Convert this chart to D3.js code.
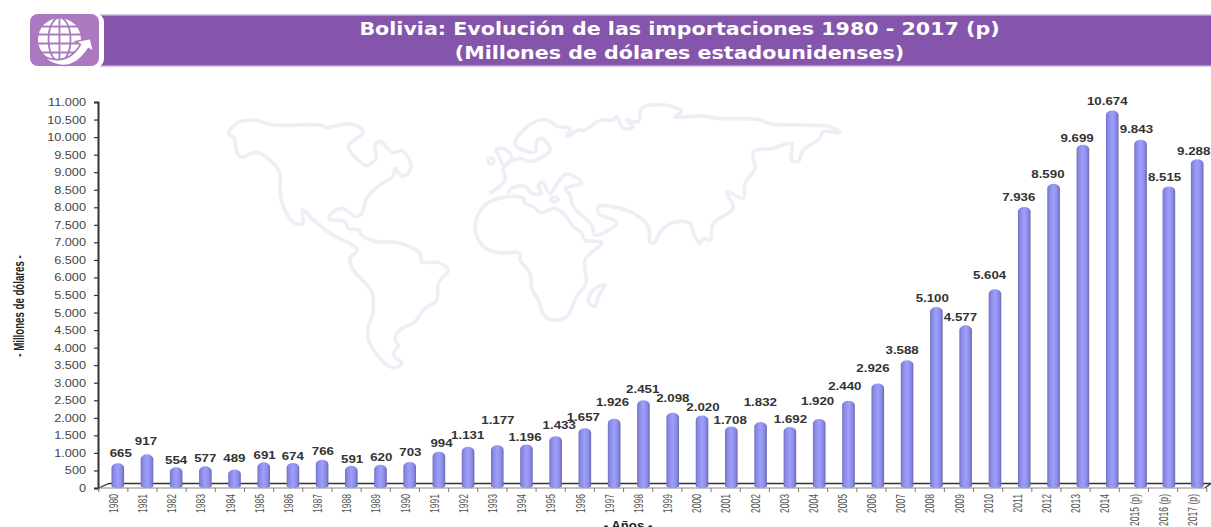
<!DOCTYPE html>
<html><head><meta charset="utf-8">
<script src="https://cdn.jsdelivr.net/npm/d3@7"></script>
<style>html,body{margin:0;padding:0;background:#fff;overflow:hidden}svg{display:block}</style>
</head><body><svg id="c" width="1211" height="527"></svg>
<script>
const years = ["1980","1981","1982","1983","1984","1985","1986","1987","1988","1989","1990","1991","1992","1993","1994","1995","1996","1997","1998","1999","2000","2001","2002","2003","2004","2005","2006","2007","2008","2009","2010","2011","2012","2013","2014","2015 (p)","2016 (p)","2017 (p)"];
const imports = [665,917,554,577,489,691,674,766,591,620,703,994,1131,1177,1196,1433,1657,1926,2451,2098,2020,1708,1832,1692,1920,2440,2926,3588,5100,4577,5604,7936,8590,9699,10674,9843,8515,9288];
const yTicks = d3.range(0, 11001, 500);
const titleLines = ["Bolivia: Evolución de las importaciones 1980 - 2017 (p)", "(Millones de dólares estadounidenses)"];
const labelNudgeX = [3,-1,0,0,0,1,0,1,1,1,1,3,0,1,-1,4,-1,-1,0,1,2,0,1,2,0,-2,-3,-3,-2,-3,-3,-3,-3,-3,-2,-2,-3,-3];
const labelNudgeY = [1,-3,4,2,-1,3,4,2,4,3,1,2,-1,-15,3,-1,-1,-6,-1,-4,2,4,-10,3,-7,-4,-5,0,1,2,-4,0,0,3,0,-1,0,1];

// decorative world outline (zoom-space points, two local frames)
const americas = [[25,100],[60,65],[110,62],[160,75],[300,75],[320,82],[390,72],[430,95],[385,140],[420,185],[440,197],[468,175],[465,135],[480,125],[520,158],[545,152],[572,190],[565,220],[545,228],[525,205],[520,228],[480,255],[440,295],[425,340],[410,350],[365,325],[330,345],[330,358],[375,365],[385,385],[415,390],[425,405],[470,425],[535,428],[600,460],[605,485],[655,488],[685,510],[655,550],[650,600],[610,630],[585,665],[540,690],[525,720],[535,735],[520,765],[545,790],[525,803],[495,790],[445,720],[445,680],[458,640],[455,575],[400,510],[390,475],[412,450],[330,400],[280,360],[248,330],[248,370],[225,370],[190,320],[180,280],[178,215],[120,160],[95,160],[65,172],[50,155],[42,115]];
const africa = [[15,385],[40,320],[110,290],[160,295],[165,310],[190,320],[210,338],[255,325],[285,345],[310,380],[335,400],[345,420],[395,428],[345,480],[348,550],[320,590],[290,650],[255,660],[225,650],[205,600],[185,565],[180,520],[150,480],[150,460],[85,458],[40,440]];
const eurasia = [[60,280],[105,240],[100,205],[150,175],[180,185],[240,150],[215,115],[200,125],[195,155],[140,140],[135,125],[185,70],[230,60],[265,80],[300,85],[290,110],[325,90],[340,92],[390,62],[430,60],[440,50],[460,85],[490,80],[470,60],[505,65],[515,25],[585,15],[635,35],[615,50],[700,48],[740,55],[860,58],[905,72],[1000,75],[1080,80],[1110,98],[1060,95],[1050,115],[1000,150],[985,185],[965,180],[965,130],[910,145],[850,155],[855,205],[825,250],[820,295],[770,275],[790,325],[730,370],[720,420],[700,415],[690,430],[670,400],[660,370],[620,365],[580,385],[550,430],[540,425],[535,380],[480,335],[385,320],[385,340],[440,368],[375,405],[365,375],[310,320],[300,285],[285,265],[335,250],[290,222],[262,250],[240,280],[215,245],[205,260],[215,280],[185,280],[165,258],[125,265],[115,280]];
const britain = [[78,148],[105,148],[125,172],[100,195],[88,170]];
const madagascar = [[405,553],[385,590],[375,618],[355,605],[370,570]];

const svg = d3.select("#c");
const defs = svg.append("defs");
const grad = defs.append("linearGradient").attr("id","bar");
[[0,"#6f6fbd"],[.15,"#8888e4"],[.5,"#9e9efc"],[.8,"#8a8ae8"],[1,"#6a6aa8"]].forEach(([o,c])=>grad.append("stop").attr("offset",o).attr("stop-color",c));

// banner
svg.append("rect").attr("x",100).attr("y",14.5).attr("width",1111).attr("height",52).attr("fill","#b292cb");
svg.append("rect").attr("x",100).attr("y",16).attr("width",1111).attr("height",49).attr("fill","#8555ab");
svg.append("rect").attr("x",28).attr("y",13).attr("width",76).attr("height",55).attr("rx",9).attr("fill","#fff");
svg.append("rect").attr("x",30).attr("y",14).attr("width",69).attr("height",52).attr("rx",8).attr("fill","#ac78c0");
const iconBg = "#ac78c0";
const globe = svg.append("g").attr("transform","translate(59.5,39.5)");
globe.append("circle").attr("r",21.5).attr("fill","#fff");
[-13,-5,4,13].forEach(v=>globe.append("line").attr("x1",-23).attr("x2",23).attr("y1",v).attr("y2",v).attr("stroke",iconBg).attr("stroke-width",1.8));
globe.append("ellipse").attr("rx",11).attr("ry",22).attr("fill","none").attr("stroke",iconBg).attr("stroke-width",1.8);
globe.append("line").attr("y1",-22).attr("y2",22).attr("stroke",iconBg).attr("stroke-width",1.8);
globe.append("path").attr("d","M-16,17 Q8,27 21,5 L16,2 L31,-1 L34,12 L29,9 Q14,32 -6,24 Q-12,22 -16,17Z").attr("fill","#fff").attr("stroke",iconBg).attr("stroke-width",1.5);

svg.selectAll("text.title").data(titleLines).join("text").attr("class","title")
  .attr("transform",(d,i)=>`translate(679.5,${35+i*24}) scale(1.115,1)`).attr("text-anchor","middle")
  .style("font","bold 18.5px 'DejaVu Sans'").attr("fill","#fff").text(d=>d);

// map
const mapLine = d3.line().curve(d3.curveCatmullRomClosed.alpha(.5));
const mapG = svg.append("g").attr("fill","none").attr("stroke","#f1ecf6").attr("stroke-linejoin","round");
mapG.append("path").attr("transform","translate(220,100) scale(.3333)").attr("stroke-width",11).attr("d",mapLine(americas));
const eaG = mapG.append("g").attr("transform","translate(470,100) scale(.3333)").attr("stroke-width",11);
[africa,britain,madagascar].forEach(p=>eaG.append("path").attr("d",mapLine(p)));
eaG.append("path").attr("d",d3.line().curve(d3.curveCatmullRom.alpha(.5))(eurasia));
eaG.append("ellipse").attr("cx",63).attr("cy",183).attr("rx",9).attr("ry",9);
eaG.append("ellipse").attr("cx",253).attr("cy",298).attr("rx",12).attr("ry",7);

// scales
const x = d3.scaleBand().domain(years).range([98.7,1206.8]);
const y = d3.scaleLinear().domain([0,11000]).range([488,102]);
const fmt = d3.formatLocale({decimal:",",thousands:".",grouping:[3],currency:["",""]}).format(",");
const depthX = 4.5, depthY = 3;
const barShift = d3.scaleLinear().domain([0,16,31,34,37]).range([4.5,5,7,7.5,5]);
const barLift = d3.scaleLinear().domain([0,11000]).range([1.3,3.1]);

// floor
svg.append("path").attr("d",`M98.7,488 L109,483.5 L1211,483.5 L1205,488`).attr("fill","none").attr("stroke","#333").attr("stroke-width",1.3);

// axes
const yAxis = svg.append("g").attr("transform","translate(98,0)").call(d3.axisLeft(y).tickValues(yTicks).tickFormat(fmt).tickSize(4).tickPadding(0));
yAxis.select(".domain").attr("stroke","#333").attr("stroke-width",2);
yAxis.selectAll("line").attr("stroke","#333").attr("stroke-width",1.2);
yAxis.selectAll("text").attr("x",0).attr("dy",null).attr("dominant-baseline","central").attr("text-anchor","end")
  .attr("transform","translate(-12,0) scale(1.27,1)").style("font","10px 'Liberation Sans'").attr("fill","#444");

const xAxis = svg.append("g").attr("transform","translate(0,488)");
xAxis.append("line").attr("x1",98.7).attr("x2",1205).attr("stroke","#888").attr("stroke-width",1);
xAxis.selectAll("line.t").data(d3.range(years.length+1)).join("line").attr("class","t")
  .attr("x1",i=>x.range()[0]+i*x.step()).attr("x2",i=>x.range()[0]+i*x.step()).attr("y1",0).attr("y2",4).attr("stroke","#777");
xAxis.selectAll("text").data(years).join("text")
  .attr("transform",d=>`translate(${x(d)+x.bandwidth()/2},6) rotate(-90) scale(.66,1)`)
  .attr("text-anchor","end").attr("dominant-baseline","central")
  .style("font","13px 'Liberation Sans'").attr("fill","#555").text(d=>d);

// bars
const bw = 12.6;
const bars = svg.append("g").selectAll("g").data(years).join("g");
bars.append("path").attr("fill","url(#bar)").attr("d",(d,i)=>{
  const l = x(d)+x.bandwidth()/2+barShift(i)-bw/2, t = y(imports[i])-barLift(imports[i]), b = 487;
  return `M${l},${b-1} L${l},${t+4.5} A${bw/2},4.5 0 0 1 ${l+bw},${t+4.5} L${l+bw},${b-1} A${bw/2},2 0 0 1 ${l},${b-1}Z`;
});

// value labels
svg.append("g").selectAll("text").data(years).join("text")
  .attr("transform",(d,i)=>`translate(${x(d)+x.bandwidth()/2+depthX+labelNudgeX[i]},${y(imports[i])-depthY-9+labelNudgeY[i]}) scale(1.33,1)`)
  .attr("text-anchor","middle").attr("dominant-baseline","central")
  .style("font","bold 10px 'Liberation Sans'").attr("fill","#333").text((d,i)=>fmt(imports[i]));

// axis titles
svg.append("text").attr("transform","translate(19,306) rotate(-90) scale(.69,1)").attr("text-anchor","middle").attr("dominant-baseline","central")
  .style("font","bold 14px 'Liberation Sans'").attr("fill","#222").text("- Millones de dólares -");
svg.append("text").attr("transform","translate(628,530) scale(1.1,1)").attr("text-anchor","middle")
  .style("font","bold 12px 'Liberation Sans'").attr("fill","#222").text("- Años -");
</script></body></html>
